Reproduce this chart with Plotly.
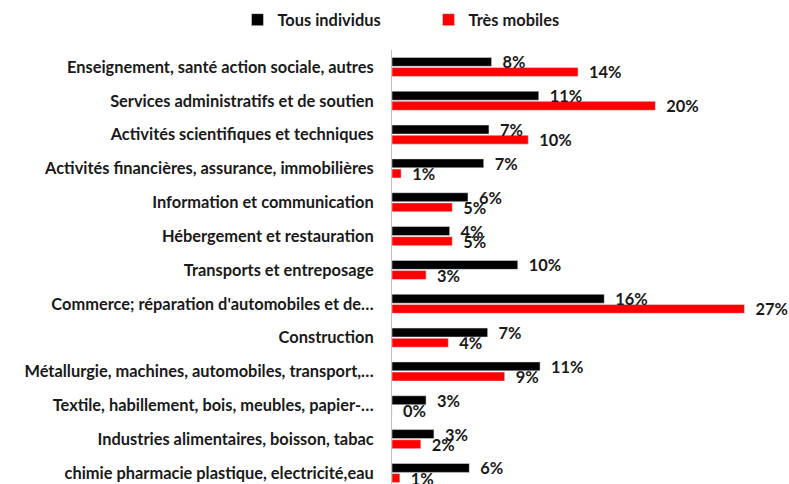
import plotly.graph_objects as go

# Sectors, listed bottom to top as drawn on the category axis
categories = [
    "chimie pharmacie plastique, electricité,eau",
    "Industries alimentaires, boisson, tabac",
    "Textile, habillement, bois, meubles, papier-…",
    "Métallurgie, machines, automobiles, transport,…",
    "Construction",
    "Commerce; réparation d'automobiles et de…",
    "Transports et entreposage",
    "Hébergement et restauration",
    "Information et communication",
    "Activités financières, assurance, immobilières",
    "Activités scientifiques et techniques",
    "Services administratifs et de soutien",
    "Enseignement, santé action sociale, autres",
]

# Share of each sector (%)
tous_individus = [5.9, 3.2, 2.6, 11.3, 7.3, 16.2, 9.6, 4.4, 5.8, 7.0, 7.4, 11.2, 7.6]
tres_mobiles = [0.6, 2.2, 0.0, 8.6, 4.3, 26.9, 2.6, 4.6, 4.6, 0.7, 10.4, 20.1, 14.2]

FONT = "Lato"
SIZE = 16.4
label_font = dict(family=FONT, size=SIZE, color="#1a1a1a", weight="bold")

fig = go.Figure()
# With reversed legend/trace order, the first trace drawn sits at the top of each group
fig.add_trace(go.Bar(
    name="Très mobiles", y=categories, x=tres_mobiles, orientation="h",
    marker=dict(color="#ff0000"),
    texttemplate="\u00a0\u00a0%{x:.0f}%", textposition="outside",
    textfont=label_font, cliponaxis=False, constraintext="none",
))
fig.add_trace(go.Bar(
    name="Tous individus", y=categories, x=tous_individus, orientation="h",
    marker=dict(color="#000000"),
    texttemplate="\u00a0\u00a0%{x:.0f}%", textposition="outside",
    textfont=label_font, cliponaxis=False, constraintext="none",
))

fig.update_layout(
    width=789, height=484,
    margin=dict(l=392, r=0, t=50, b=0),
    paper_bgcolor="white", plot_bgcolor="white",
    barmode="group", bargap=0.4, bargroupgap=0.12,
    font=dict(family=FONT, size=SIZE, color="#1a1a1a"),
    legend=dict(
        orientation="h", traceorder="reversed",
        xref="container", yref="container",
        x=0.301, y=1 - 20 / 484, xanchor="left", yanchor="middle",
        font=dict(family=FONT, size=SIZE, color="#1a1a1a", weight="bold"),
        entrywidth=146, entrywidthmode="pixels",
    ),
    xaxis=dict(range=[0, 30.3], showgrid=False, zeroline=False,
               showticklabels=False, ticks=""),
    yaxis=dict(type="category", range=[-0.325, 12.5], showgrid=False,
               showline=True, linecolor="#bfbfbf", linewidth=1,
               ticks="", ticklabelstandoff=14,
               tickfont=dict(family=FONT, size=SIZE, color="#1a1a1a", weight="bold")),
)

fig.write_html("out.html")
